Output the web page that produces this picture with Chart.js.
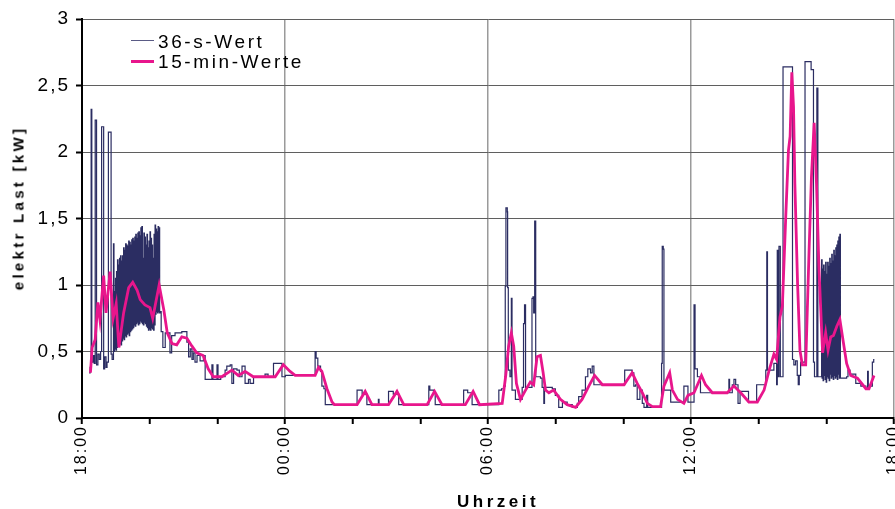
<!DOCTYPE html>
<html>
<head>
<meta charset="utf-8">
<script src="https://cdn.jsdelivr.net/npm/chart.js@4.4.1/dist/chart.umd.min.js"></script>
<style>
    body { margin: 0; background: #fff; }
    #wrap { position: relative; width: 895px; height: 509px; font-family: "Liberation Sans", Arial, sans-serif; color: #000; }
    #last { position: absolute; left: 0; top: 0; }
    .leg-line { position: absolute; left: 131px; width: 23px; }
    .leg-text { position: absolute; left: 158px; font-size: 19px; line-height: 19px; letter-spacing: 2.6px; white-space: nowrap; }
    #ytitle { position: absolute; left: 18px; top: 208px; transform: translate(-50%, -50%) rotate(-90deg); font-weight: bold; font-size: 15px; letter-spacing: 3.3px; white-space: nowrap; }
    #xtitle { position: absolute; left: 457px; top: 493px; font-weight: bold; font-size: 17px; line-height: 17px; letter-spacing: 3.5px; white-space: nowrap; }
</style>
</head>
<body>
<div id="wrap">
    <canvas id="last" width="895" height="509"></canvas>
    <div class="leg-line" style="top:40px;height:1px;background:#5a5b85;"></div>
    <div class="leg-text" style="top:32px;">36-s-Wert</div>
    <div class="leg-line" style="top:60px;height:3px;background:#e8168c;"></div>
    <div class="leg-text" style="top:52px;">15-min-Werte</div>
    <div id="ytitle">elektr Last [kW]</div>
    <div id="xtitle">Uhrzeit</div>
</div>
<script>
// Zeit in Stunden ab 18:00, Last in kW
const uhrzeitLabels = ["18:00", "00:00", "06:00", "12:00", "18:00"];
const lastLabels = ["0", "0,5", "1", "1,5", "2", "2,5", "3"];

// 36-s-Werte, abschnittsweise
const abend36 = [
    [0.21, 0.34], [0.24, 0.38], [0.27, 2.32], [0.29, 0.42], [0.33, 0.47], [0.36, 0.41], [0.39, 2.24], [0.43, 0.40],
    [0.47, 0.48], [0.51, 0.44], [0.55, 0.50], [0.58, 2.19], [0.64, 0.37], [0.67, 0.46], [0.71, 0.38], [0.74, 0.42],
    [0.78, 2.15], [0.86, 0.48], [0.89, 0.44]
];
// Takten zwischen ca. 18:55 und 20:20
const takt1_36 = [
    [0.93, 1.31], [0.945, 0.50], [0.96, 0.95], [0.975, 0.52], [0.99, 1.05], [1.005, 0.51], [1.02, 1.10], [1.035, 0.53],
    [1.05, 1.19], [1.065, 0.55], [1.08, 1.15], [1.095, 0.54], [1.11, 1.20], [1.125, 0.56], [1.14, 1.22], [1.155, 0.55],
    [1.17, 1.18], [1.185, 0.58], [1.20, 1.22], [1.215, 0.60], [1.23, 1.28], [1.245, 0.59], [1.26, 1.26], [1.275, 0.62],
    [1.29, 1.31], [1.305, 0.61], [1.32, 1.30], [1.335, 0.63], [1.35, 1.29], [1.365, 0.64], [1.38, 1.33], [1.395, 0.62],
    [1.41, 1.32], [1.425, 0.65], [1.44, 1.30], [1.455, 0.66], [1.47, 1.34], [1.485, 0.67], [1.50, 1.35], [1.515, 0.68],
    [1.53, 1.33], [1.545, 0.70], [1.56, 1.36], [1.575, 0.69], [1.59, 1.38], [1.605, 0.71], [1.62, 1.35], [1.635, 0.72],
    [1.65, 1.39], [1.665, 0.70], [1.68, 1.40], [1.695, 0.71], [1.71, 1.37], [1.725, 0.73], [1.74, 1.43], [1.755, 0.72],
    [1.77, 1.44], [1.785, 0.71], [1.80, 1.20], [1.815, 0.70], [1.83, 1.39], [1.845, 0.72], [1.86, 1.36], [1.875, 0.71],
    [1.89, 1.30], [1.905, 0.69], [1.92, 1.38], [1.935, 0.68], [1.95, 1.28], [1.965, 0.66], [1.98, 1.33], [1.995, 0.67],
    [2.01, 1.40], [2.025, 0.66], [2.04, 1.35], [2.055, 0.68], [2.07, 1.30], [2.085, 0.67], [2.10, 1.20], [2.115, 0.66],
    [2.13, 1.38], [2.145, 0.70], [2.16, 1.45], [2.175, 0.78], [2.19, 1.42], [2.205, 0.80], [2.22, 1.40], [2.235, 0.79],
    [2.25, 1.44], [2.265, 0.80], [2.28, 1.43], [2.295, 0.79], [2.31, 0.80]
];
const nacht36 = [
    [2.34, 0.65], [2.39, 0.53], [2.46, 0.64], [2.60, 0.49], [2.65, 0.62], [2.75, 0.64], [2.95, 0.65], [3.10, 0.57],
    [3.15, 0.46], [3.20, 0.52], [3.25, 0.44], [3.29, 0.49], [3.34, 0.42], [3.40, 0.47], [3.49, 0.43], [3.59, 0.47],
    [3.64, 0.29], [3.84, 0.40], [3.87, 0.29], [3.99, 0.40], [4.02, 0.29], [4.10, 0.31], [4.23, 0.36], [4.28, 0.39],
    [4.38, 0.40], [4.43, 0.26], [4.48, 0.37], [4.58, 0.36], [4.65, 0.31], [4.73, 0.39], [4.80, 0.39], [4.82, 0.26],
    [4.92, 0.29], [4.97, 0.26], [5.07, 0.31], [5.41, 0.33], [5.50, 0.31], [5.66, 0.41], [5.91, 0.31], [6.01, 0.32],
    [6.80, 0.32], [6.89, 0.50], [6.92, 0.45], [6.97, 0.39], [7.05, 0.35], [7.09, 0.24], [7.15, 0.22], [7.19, 0.10],
    [7.22, 0.10], [8.13, 0.21], [8.28, 0.18], [8.42, 0.10], [8.76, 0.14], [8.78, 0.10], [9.06, 0.20], [9.20, 0.18],
    [9.36, 0.10], [10.25, 0.24], [10.28, 0.21], [10.39, 0.19], [10.44, 0.10], [11.28, 0.21], [11.40, 0.19], [11.53, 0.10]
];
const morgen36 = [
    [12.32, 0.21], [12.40, 0.22], [12.46, 0.24], [12.51, 0.99], [12.53, 1.58], [12.57, 1.55], [12.58, 0.98], [12.60, 0.36],
    [12.65, 0.31], [12.69, 0.90], [12.71, 0.21], [12.81, 0.14], [13.01, 0.23], [13.05, 0.71], [13.08, 0.85], [13.11, 0.23],
    [13.30, 0.90], [13.33, 0.91], [13.35, 0.79], [13.38, 1.48], [13.41, 0.31], [13.55, 0.30], [13.60, 0.23], [13.65, 0.11],
    [13.67, 0.23], [13.90, 0.22], [13.99, 0.17], [14.09, 0.08], [14.20, 0.12], [14.34, 0.10], [14.49, 0.08], [14.64, 0.11],
    [14.68, 0.16], [14.78, 0.21], [14.88, 0.31], [14.95, 0.37], [15.03, 0.34], [15.08, 0.39], [15.13, 0.25]
];
const mittag36 = [
    [16.04, 0.36], [16.26, 0.34], [16.31, 0.24], [16.36, 0.25], [16.41, 0.14], [16.49, 0.21], [16.56, 0.11], [16.61, 0.08],
    [16.69, 0.17], [16.72, 0.08], [17.05, 0.08], [17.13, 0.41], [17.15, 1.29], [17.18, 1.27], [17.20, 0.21], [17.35, 0.21],
    [17.40, 0.12], [17.64, 0.12], [17.79, 0.24], [17.91, 0.12], [18.04, 0.12], [18.09, 0.85], [18.12, 0.37], [18.19, 0.31],
    [18.28, 0.19], [19.12, 0.29], [19.14, 0.19], [19.22, 0.25], [19.27, 0.29], [19.32, 0.25], [19.39, 0.11], [19.45, 0.20],
    [19.70, 0.12], [19.94, 0.25], [20.16, 0.25]
];
const nachmittag36 = [
    [20.21, 0.36], [20.24, 1.25], [20.26, 0.36], [20.40, 0.36], [20.45, 0.41], [20.53, 0.25], [20.55, 1.26], [20.57, 0.31],
    [20.60, 1.29], [20.64, 0.31], [20.72, 2.64], [21.00, 0.44], [21.04, 0.40], [21.09, 0.43], [21.14, 0.32], [21.17, 0.25],
    [21.20, 0.32], [21.24, 0.42], [21.37, 2.68], [21.55, 2.62], [21.62, 0.42], [21.65, 0.31], [21.72, 2.48], [21.75, 0.31]
];
// Takten zwischen ca. 15:50 und 16:25
const takt2_36 = [
    [21.86, 1.19], [21.875, 0.30], [21.89, 1.12], [21.905, 0.28], [21.92, 1.15], [21.935, 0.32], [21.95, 1.10], [21.965, 0.29],
    [21.98, 1.17], [21.995, 0.27], [22.01, 1.08], [22.025, 0.31], [22.04, 1.17], [22.055, 0.30], [22.07, 1.14], [22.085, 0.28],
    [22.10, 1.20], [22.115, 0.33], [22.13, 1.16], [22.145, 0.30], [22.16, 1.23], [22.175, 0.31], [22.19, 1.18], [22.205, 0.29],
    [22.22, 1.26], [22.235, 0.32], [22.25, 1.22], [22.265, 0.30], [22.28, 1.28], [22.295, 0.31], [22.31, 1.30], [22.325, 0.29],
    [22.34, 1.33], [22.355, 0.33], [22.37, 1.36], [22.385, 0.30], [22.40, 1.38], [22.415, 0.30]
];
const abend2_36 = [
    [22.60, 0.31], [22.64, 0.36], [22.70, 0.33], [22.87, 0.26], [23.02, 0.24], [23.17, 0.22], [23.22, 0.35], [23.24, 0.24],
    [23.36, 0.42], [23.40, 0.44], [23.42, 0.44]
];

// gleitende 15-min-Werte
const werte15min = [
    [0.25, 0.34], [0.30, 0.53], [0.39, 0.59], [0.47, 0.87], [0.53, 0.74], [0.64, 1.07], [0.71, 0.79], [0.83, 1.10],
    [0.92, 0.75], [1.01, 0.86], [1.09, 0.53], [1.23, 0.79], [1.38, 0.98], [1.50, 1.02], [1.63, 0.96], [1.72, 0.89],
    [1.86, 0.85], [2.01, 0.83], [2.09, 0.75], [2.28, 1.00], [2.42, 0.81], [2.52, 0.64], [2.66, 0.56], [2.80, 0.55],
    [2.95, 0.61], [3.10, 0.60], [3.25, 0.54], [3.39, 0.49], [3.58, 0.47], [3.73, 0.37], [3.88, 0.31], [4.13, 0.31],
    [4.43, 0.36], [4.62, 0.32], [4.82, 0.35], [5.06, 0.31], [5.71, 0.31], [5.95, 0.40], [6.15, 0.35], [6.30, 0.32],
    [6.89, 0.32], [6.99, 0.38], [7.09, 0.35], [7.24, 0.22], [7.39, 0.12], [7.46, 0.10], [8.13, 0.10], [8.37, 0.20],
    [8.57, 0.10], [9.06, 0.10], [9.31, 0.20], [9.51, 0.10], [10.20, 0.10], [10.42, 0.20], [10.64, 0.10], [11.33, 0.10],
    [11.56, 0.20], [11.75, 0.10], [12.42, 0.11], [12.52, 0.31], [12.61, 0.54], [12.69, 0.64], [12.76, 0.54], [12.84, 0.26],
    [12.96, 0.14], [13.11, 0.21], [13.25, 0.27], [13.35, 0.25], [13.45, 0.46], [13.55, 0.47], [13.63, 0.34], [13.70, 0.21],
    [13.80, 0.19], [13.94, 0.21], [14.14, 0.14], [14.34, 0.10], [14.59, 0.08], [14.78, 0.14], [14.98, 0.24], [15.15, 0.32],
    [15.38, 0.25], [16.02, 0.25], [16.26, 0.34], [16.41, 0.26], [16.56, 0.19], [16.71, 0.11], [16.86, 0.085], [17.10, 0.085],
    [17.20, 0.24], [17.37, 0.34], [17.45, 0.21], [17.60, 0.14], [17.79, 0.11], [17.91, 0.17], [18.09, 0.19], [18.31, 0.32],
    [18.43, 0.25], [18.63, 0.19], [19.07, 0.19], [19.27, 0.24], [19.47, 0.19], [19.71, 0.12], [19.96, 0.12], [20.16, 0.21],
    [20.31, 0.36], [20.45, 0.48], [20.53, 0.44], [20.63, 0.76], [20.70, 0.84], [20.80, 1.51], [20.88, 2.01], [20.93, 2.12],
    [20.98, 2.60], [21.03, 2.34], [21.07, 1.76], [21.15, 1.01], [21.22, 0.51], [21.29, 0.40], [21.39, 0.40], [21.49, 1.26],
    [21.56, 1.81], [21.64, 2.22], [21.71, 1.76], [21.78, 1.14], [21.89, 0.49], [21.98, 0.64], [22.05, 0.51], [22.13, 0.61],
    [22.21, 0.62], [22.31, 0.69], [22.40, 0.74], [22.49, 0.59], [22.60, 0.41], [22.72, 0.32], [22.92, 0.30], [23.17, 0.22],
    [23.26, 0.22], [23.41, 0.32]
];

const wert36s = [...abend36, ...takt1_36, ...nacht36, ...morgen36, ...mittag36, ...nachmittag36, ...takt2_36, ...abend2_36];

// Canvas-Text etwas gesperrt wie im Original
const sperrung = {
    id: "sperrung",
    beforeDraw(chart) { chart.ctx.letterSpacing = "2px"; },
    afterDraw(chart) { chart.ctx.letterSpacing = "0px"; }
};

new Chart(document.getElementById("last"), {
    type: "line",
    data: {
        datasets: [
            { label: "15-min-Werte", data: werte15min, borderColor: "#e8168c", borderWidth: 2.8, pointRadius: 0, tension: 0, order: 1 },
            { label: "36-s-Wert", data: wert36s, borderColor: "#2b2d62", borderWidth: 1.2, pointRadius: 0, stepped: true, order: 2 }
        ]
    },
    options: {
        responsive: false,
        devicePixelRatio: 1,
        animation: false,
        layout: { padding: { top: 19, right: 1, left: 0, bottom: 0 } },
        plugins: { legend: { display: false }, tooltip: { enabled: false } },
        scales: {
            x: {
                type: "linear", min: 0, max: 24,
                ticks: {
                    stepSize: 2, autoSkip: false, minRotation: 90, maxRotation: 90, padding: 1,
                    color: "#000", font: { family: "'Liberation Sans', Arial", size: 16 },
                    callback: (v) => (v % 6 === 0 ? uhrzeitLabels[v / 6] : "")
                },
                grid: {
                    color: (c) => (c.tick && c.tick.value % 6 === 0 ? "#9a9a9a" : "rgba(0,0,0,0)"),
                    lineWidth: 1.5, tickColor: "#000", tickLength: 6, tickWidth: 2
                },
                border: { color: "#000", width: 2 },
                afterFit: (s) => { s.height = 91; s.paddingLeft = 0; s.paddingRight = 0; }
            },
            y: {
                min: 0, max: 3,
                ticks: {
                    stepSize: 0.5, padding: 6, color: "#000",
                    font: { family: "'Liberation Sans', Arial", size: 19 },
                    callback: (v, i) => lastLabels[i]
                },
                grid: { color: "#5f5f5f", lineWidth: 1, tickColor: "#000", tickLength: 6, tickWidth: 2 },
                border: { color: "#000", width: 2 },
                afterFit: (s) => { s.width = 82; s.paddingTop = 0; s.paddingBottom = 0; }
            }
        }
    },
    plugins: [sperrung]
});
</script>
</body>
</html>
